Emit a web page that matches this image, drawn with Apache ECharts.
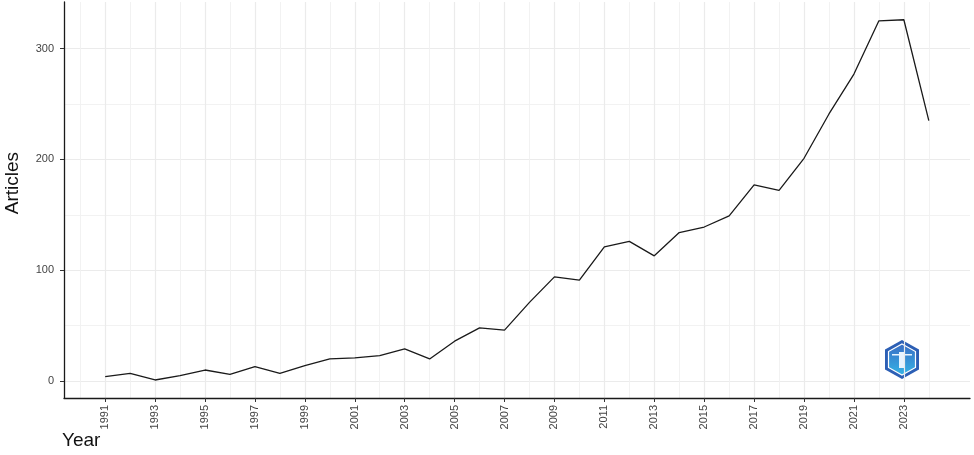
<!DOCTYPE html>
<html>
<head>
<meta charset="utf-8">
<script src="https://cdn.jsdelivr.net/npm/echarts@6/dist/echarts.min.js"></script>
<style>
html,body{margin:0;padding:0;background:#fff;}
#chart{width:974px;height:455px;}
</style>
</head>
<body>
<div id="chart"></div>
<script>
const years = [1991,1992,1993,1994,1995,1996,1997,1998,1999,2000,2001,2002,2003,2004,2005,2006,2007,2008,2009,2010,2011,2012,2013,2014,2015,2016,2017,2018,2019,2020,2021,2022,2023,2024];
const articles = [4,7,1,5,10,6,13,7,14,20,21,23,29,20,36,48,46,71,94,91,121,126,113,134,139,149,177,172,201,241,277,325,326,235];
const xMajorTicks = [1991,1993,1995,1997,1999,2001,2003,2005,2007,2009,2011,2013,2015,2017,2019,2021,2023];
const xMinorTicks = [1990,1992,1994,1996,1998,2000,2002,2004,2006,2008,2010,2012,2014,2016,2018,2020,2022,2024];
const yMajorTicks = [0,100,200,300];
const yMinorTicks = [50,150,250];

const xMin = 1989.35, xMax = 2025.65;
const yMin = -15.25, yMax = 342;

const chart = echarts.init(document.getElementById('chart'), null, {renderer:'canvas'});
const labelFont = {color:'#444444', fontSize:11, fontFamily:'Liberation Sans, Arial, sans-serif'};

chart.setOption({
  animation:false,
  backgroundColor:'#ffffff',
  grid:{left:64, right:4, top:2, bottom:57, containLabel:false},
  xAxis:[
    {
      type:'value', min:xMin, max:xMax, position:'bottom',
      axisLine:{show:true, onZero:false, lineStyle:{color:'#1a1a1a', width:1.3}},
      axisTick:{show:true, length:4, customValues:xMajorTicks, lineStyle:{color:'#333', width:1}},
      axisLabel:Object.assign({show:true, rotate:90, margin:7, customValues:xMajorTicks, formatter:v=>String(v)}, labelFont),
      splitLine:{show:true, lineStyle:{color:'#ebebeb', width:1.2}}
    },
    {
      type:'value', min:xMin, max:xMax, position:'bottom',
      axisLine:{show:false},
      axisTick:{show:false, customValues:xMinorTicks},
      axisLabel:{show:false, customValues:xMinorTicks},
      splitLine:{show:true, lineStyle:{color:'#f0f0f0', width:0.9}}
    }
  ],
  yAxis:[
    {
      type:'value', min:yMin, max:yMax,
      axisLine:{show:true, onZero:false, lineStyle:{color:'#1a1a1a', width:1.3}},
      axisTick:{show:true, length:4, customValues:yMajorTicks, lineStyle:{color:'#333', width:1}},
      axisLabel:Object.assign({show:true, margin:10, customValues:yMajorTicks}, labelFont),
      splitLine:{show:true, lineStyle:{color:'#ebebeb', width:1.2}}
    },
    {
      type:'value', min:yMin, max:yMax, position:'left',
      axisLine:{show:false},
      axisTick:{show:false, customValues:yMinorTicks},
      axisLabel:{show:false, customValues:yMinorTicks},
      splitLine:{show:true, lineStyle:{color:'#f0f0f0', width:0.9}}
    }
  ],
  series:[{
    type:'line',
    xAxisIndex:0, yAxisIndex:0,
    data: years.map((y,i)=>[y, articles[i]]),
    showSymbol:false,
    lineStyle:{color:'#1a1a1a', width:1.3},
    z:5
  }],
  graphic:[
    {type:'text', left:62, top:431, style:{text:'Year', fontSize:19, fill:'#111', fontFamily:'Liberation Sans, Arial, sans-serif'}},
    {type:'text', left:3, top:152, rotation:Math.PI/2, style:{text:'Articles', fontSize:19, fill:'#111', fontFamily:'Liberation Sans, Arial, sans-serif'}},
    {type:'group', left:885, top:340, children:[
      {type:'polygon', shape:{points:[[17,0],[34,9.5],[34,29.5],[17,39],[0,29.5],[0,9.5]]}, style:{fill:'#2c5fb5'}},
      {type:'polygon', shape:{points:[[17,4],[30.5,11.5],[30.5,27.5],[17,35],[3.5,27.5],[3.5,11.5]]}, style:{fill:{type:'linear',x:0,y:0,x2:0,y2:1,colorStops:[{offset:0,color:'#3a6cc4'},{offset:1,color:'#35b4e6'}]}, stroke:'#ffffff', lineWidth:1.2}},
      {type:'rect', shape:{x:14,y:12,width:6,height:16}, style:{fill:'#e8f4ff'}},
      {type:'rect', shape:{x:7,y:14,width:20,height:1.5}, style:{fill:'#e8f4ff'}}
    ]}
  ]
});
</script>
</body>
</html>
